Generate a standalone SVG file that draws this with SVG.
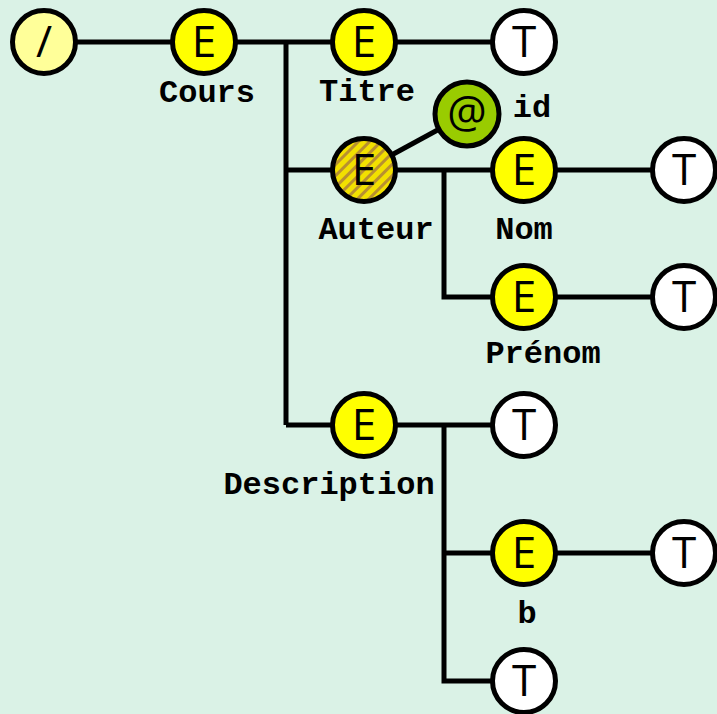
<svg xmlns="http://www.w3.org/2000/svg" width="717" height="714" viewBox="0 0 717 714">
<defs>
<pattern id="hatch" patternUnits="userSpaceOnUse" width="8" height="8" patternTransform="rotate(45)">
<rect width="8" height="8" fill="#f2e000"/>
<rect width="3" height="8" fill="#b89030"/>
</pattern>
<style>
.n{stroke:#000;stroke-width:5}
.e{fill:#ffff00}
.t{fill:#ffffff}
.r{fill:#ffff99}
.a{fill:#99cc00}
.g{font-family:"Open Sans","DejaVu Sans",sans-serif;font-weight:normal;font-size:44px;fill:#000;text-anchor:middle;dominant-baseline:central}
.l{font-family:"Liberation Mono","Courier New",monospace;font-weight:bold;font-size:32px;fill:#000;text-anchor:middle}
#edges path,#edges line{stroke:#000;stroke-width:5;fill:none}
</style>
</defs>
<rect width="717" height="714" fill="#daf2e6"/>
<g id="edges">
<line x1="44" y1="42" x2="524" y2="42"/>
<path d="M286 42V425"/>
<line x1="286" y1="170" x2="684" y2="170"/>
<line x1="286" y1="425" x2="524" y2="425"/>
<path d="M444 170V297H684"/>
<path d="M444 425V681H524"/>
<line x1="444" y1="553" x2="684" y2="553"/>
<line x1="364" y1="170" x2="467" y2="114"/>
</g>
<g id="root"><circle class="n r" cx="44" cy="42" r="31.5"/><text class="g" x="44" y="40">/</text></g>
<g id="cours"><circle class="n e" cx="204" cy="42" r="31.5"/><text class="g" x="204" y="40">E</text><text class="l" x="207" y="102">Cours</text></g>
<g id="titre"><circle class="n e" cx="364" cy="42" r="31.5"/><text class="g" x="364" y="40">E</text><text class="l" x="367" y="101">Titre</text></g>
<g id="titre-t"><circle class="n t" cx="524" cy="42" r="31.5"/><text class="g" x="524" y="40">T</text></g>
<g id="auteur"><circle class="n" fill="url(#hatch)" cx="364" cy="170" r="31.5"/><text class="g" x="364" y="168">E</text><text class="l" x="376" y="239">Auteur</text></g>
<g id="id"><circle class="n a" cx="467" cy="114" r="32"/><text class="g" x="467" y="110">@</text><text class="l" x="532" y="117">id</text></g>
<g id="nom"><circle class="n e" cx="524" cy="170" r="31.5"/><text class="g" x="524" y="168">E</text><text class="l" x="524" y="239">Nom</text></g>
<g id="nom-t"><circle class="n t" cx="684" cy="170" r="31.5"/><text class="g" x="684" y="168">T</text></g>
<g id="prenom"><circle class="n e" cx="524" cy="297" r="31.5"/><text class="g" x="524" y="295">E</text><text class="l" x="543" y="363">Prénom</text></g>
<g id="prenom-t"><circle class="n t" cx="684" cy="297" r="31.5"/><text class="g" x="684" y="295">T</text></g>
<g id="description"><circle class="n e" cx="364" cy="425" r="31.5"/><text class="g" x="364" y="423">E</text><text class="l" x="329" y="494">Description</text></g>
<g id="desc-t"><circle class="n t" cx="524" cy="425" r="31.5"/><text class="g" x="524" y="423">T</text></g>
<g id="b"><circle class="n e" cx="524" cy="553" r="31.5"/><text class="g" x="524" y="551">E</text><text class="l" x="527" y="623">b</text></g>
<g id="b-t"><circle class="n t" cx="684" cy="553" r="31.5"/><text class="g" x="684" y="551">T</text></g>
<g id="desc-t2"><circle class="n t" cx="524" cy="681" r="31.5"/><text class="g" x="524" y="679">T</text></g>
</svg>
